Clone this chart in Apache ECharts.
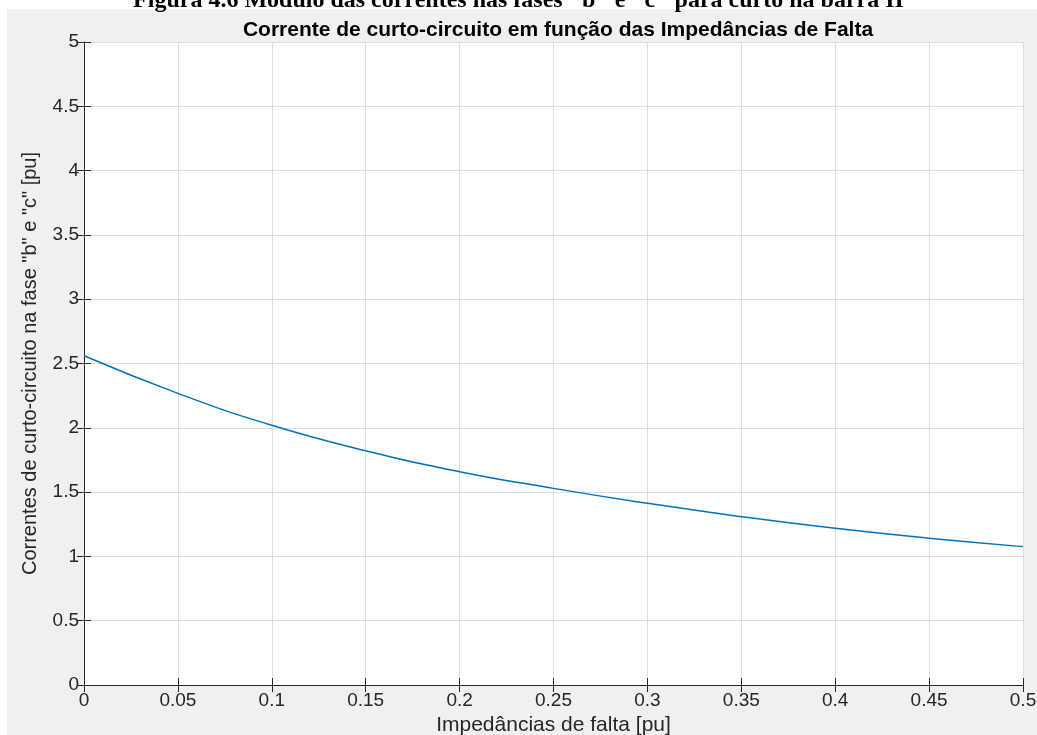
<!DOCTYPE html>
<html>
<head>
<meta charset="utf-8">
<script src="https://cdn.jsdelivr.net/npm/echarts@6/dist/echarts.min.js"></script>
<style>
  html, body { margin: 0; padding: 0; background: #fff; }
  #main { width: 1037px; height: 735px; }
</style>
</head>
<body>
<div id="main"></div>
<script>
// valores
const impedancias = [0, 0.05, 0.1, 0.15, 0.2, 0.25, 0.3, 0.35, 0.4, 0.45, 0.5]
const correntes = [2.56, 2.268, 2.02, 1.822, 1.659, 1.529, 1.413, 1.309, 1.218, 1.141, 1.076]
const xTicks = [0, 0.05, 0.1, 0.15, 0.2, 0.25, 0.3, 0.35, 0.4, 0.45, 0.5]
const yTicks = [0, 0.5, 1, 1.5, 2, 2.5, 3, 3.5, 4, 4.5, 5]

const chartDom = document.getElementById('main')
const myChart = echarts.init(chartDom, null, { renderer: 'canvas' })

const eixo = '#262626'
const fonte = 'Liberation Sans, Arial, sans-serif'

const axisBase = {
  type: 'value',
  axisLine: { show: true, lineStyle: { color: eixo, width: 1 } },
  axisTick: { show: true, inside: true, length: 7, lineStyle: { color: eixo } },
  splitLine: { show: false }
}

const option = {
  backgroundColor: '#fff',
  animation: false,
  graphic: [
    {
      type: 'rect',
      shape: { x: 7, y: 9, width: 1030, height: 726 },
      style: { fill: '#f0f0f0' },
      z: -10
    },
    {
      type: 'text',
      left: 'center',
      top: -11,
      style: {
        text: 'Figura 4.6 Módulo das correntes nas fases "b" e "c" para curto na barra II',
        font: 'bold 24px "Liberation Serif", "Times New Roman", serif',
        fill: '#000'
      },
      z: -5
    }
  ],
  title: {
    text: 'Corrente de curto-circuito em função das Impedâncias de Falta',
    left: 553,
    textAlign: 'center',
    top: 15,
    textStyle: { fontFamily: fonte, fontSize: 21, fontWeight: 'bold', color: '#000' }
  },
  grid: {
    left: 84, right: 14, top: 42, bottom: 50,
    outerBoundsMode: 'none', containLabel: false,
    show: true, backgroundColor: '#fff', borderWidth: 0
  },
  xAxis: [
    Object.assign({}, axisBase, {
      min: xTicks[0],
      max: xTicks[xTicks.length - 1],
      interval: 0.05,
      position: 'bottom',
      name: 'Impedâncias de falta [pu]',
      nameLocation: 'middle',
      nameGap: 21,
      nameTextStyle: { fontFamily: fonte, fontSize: 21, color: eixo },
      axisLabel: { fontFamily: fonte, fontSize: 19, color: eixo, margin: 6 },
      splitLine: { show: true, lineStyle: { color: '#dedede', width: 1 } }
    }),
    Object.assign({}, axisBase, {
      min: xTicks[0],
      max: xTicks[xTicks.length - 1],
      interval: 0.05,
      position: 'top',
      axisLabel: { show: false }
    })
  ],
  yAxis: [
    Object.assign({}, axisBase, {
      min: yTicks[0],
      max: yTicks[yTicks.length - 1],
      interval: 0.5,
      position: 'left',
      name: 'Correntes de curto-circuito na fase "b" e "c" [pu]',
      nameLocation: 'middle',
      nameGap: 44,
      nameTextStyle: { fontFamily: fonte, fontSize: 20, color: eixo },
      axisLabel: { fontFamily: fonte, fontSize: 19, color: eixo, margin: 5 },
      splitLine: { show: true, lineStyle: { color: '#dedede', width: 1 } }
    }),
    Object.assign({}, axisBase, {
      min: yTicks[0],
      max: yTicks[yTicks.length - 1],
      interval: 0.5,
      position: 'right',
      axisLabel: { show: false }
    })
  ],
  series: [
    {
      type: 'line',
      data: impedancias.map((z, i) => [z, correntes[i]]),
      smooth: true,
      showSymbol: false,
      lineStyle: { color: '#0072BD', width: 1.5 },
      itemStyle: { color: '#0072BD' }
    }
  ]
}
option && myChart.setOption(option)
</script>
</body>
</html>
